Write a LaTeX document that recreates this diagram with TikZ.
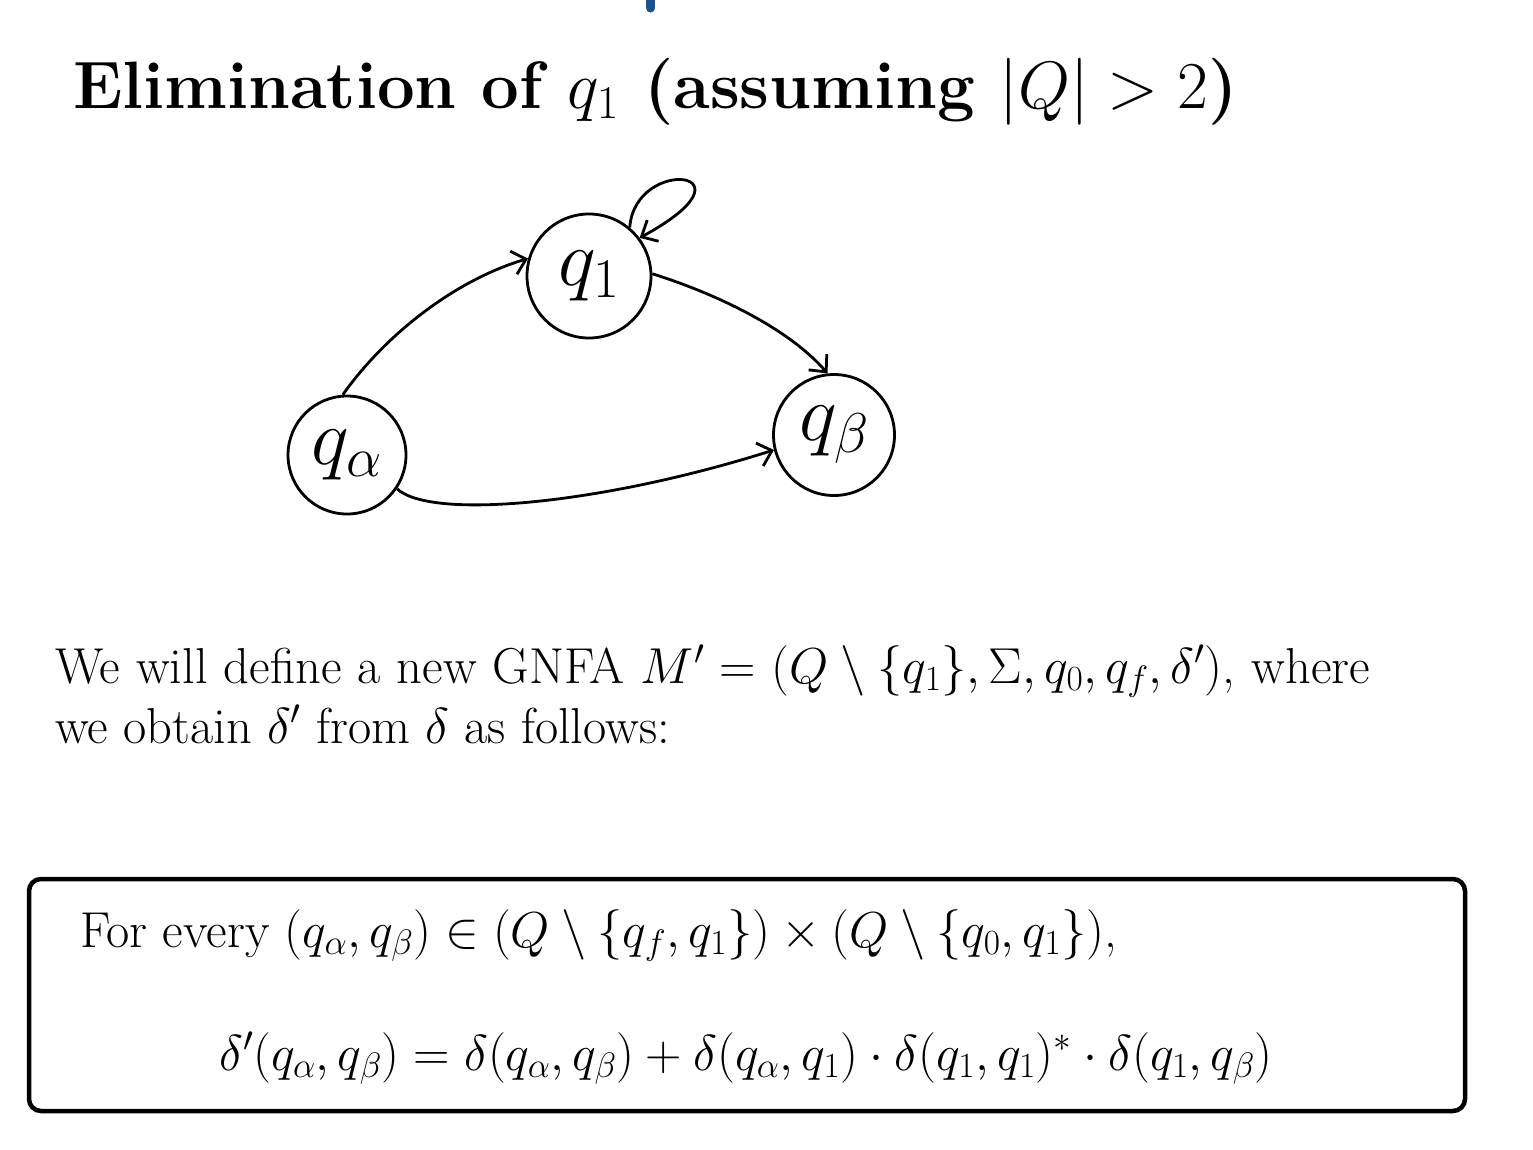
\RequirePackage{fix-cm}
\documentclass[tikz,border=0pt]{standalone}
\usepackage{amsmath,amssymb}
\usepackage{fontspec}
\usetikzlibrary{arrows.meta}
\definecolor{markblue}{RGB}{30,80,140}
\begin{document}
\begin{tikzpicture}[x=1pt,y=-1pt,
  state/.style={draw, circle, line width=2.8pt, minimum size=118pt, inner sep=0pt, font=\fontsize{80}{90}\selectfont},
  edge/.style={line width=2.8pt, -{Straight Barb[length=13pt,width=24pt,line width=2.8pt]}},
  txt/.style={anchor=base west, inner sep=0pt, font=\fontsize{50.5}{60}\selectfont},
]
\useasboundingbox (0,0) rectangle (1533,1149);
\fill[white] (0,0) rectangle (1533,1149);
% blue mark
\draw[markblue, line width=9pt, line cap=round] (650.5,-10) -- (650.5,8);
% title
\node[txt, font=\fontsize{67}{80}\selectfont\bfseries] (title) at (73,108) {Elimination of $q_1$ (assuming $|Q|>2$)};
% states
\node[state] (qa) at (347,455) {$q_\alpha$};
\node[state, minimum size=124pt] (q1) at (589,276) {$q_1$};
\node[state, minimum size=121pt] (qb) at (834,435) {$q_\beta$};
% edges
\draw[edge] (qa.94) .. controls (385,335) and (455,280) .. (q1.164);
\draw[edge] (q1.2) .. controls (720,295) and (790,330) .. (qb.96);
\draw[edge] (qa.-34) .. controls (430,520) and (600,505) .. (qb.-166);
\draw[edge] (q1.50) .. controls (635,155) and (765,170) .. (q1.37);
% paragraph
\node[txt] (p1) at (55,683) {\makebox[1315pt][s]{We will define a new GNFA $M'=(Q\setminus\{q_1\},\Sigma,q_0,q_f,\delta')$, where}};
\node[txt] (p2) at (55,743) {we obtain $\delta'$ from $\delta$ as follows:};
% box
\node[draw, rounded corners=12pt, line width=4.5pt, minimum width=1436pt, minimum height=232pt, inner sep=0pt] (box) at (747,995) {};
\node[txt] (b1) at (80,947) {For every $(q_\alpha,q_\beta)\in(Q\setminus\{q_f,q_1\})\times(Q\setminus\{q_0,q_1\})$,};
\node[txt, anchor=base] (b2) at (746,1070) {$\delta'(q_\alpha,q_\beta)=\delta(q_\alpha,q_\beta)+\delta(q_\alpha,q_1)\cdot\delta(q_1,q_1)^*\cdot\delta(q_1,q_\beta)$};
\end{tikzpicture}
\end{document}
